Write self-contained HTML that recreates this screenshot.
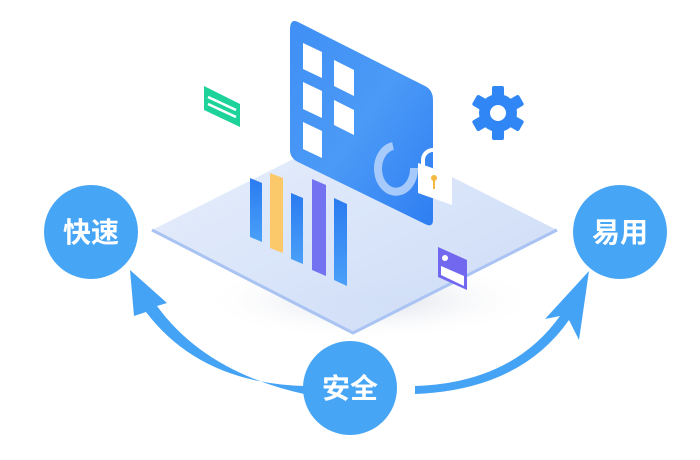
<!DOCTYPE html>
<html><head><meta charset="utf-8"><style>
html,body{margin:0;padding:0;background:#fff;width:700px;height:460px;overflow:hidden}
svg{display:block}
</style></head><body>
<svg width="700" height="460" viewBox="0 0 700 460" xmlns="http://www.w3.org/2000/svg">
<defs>
<linearGradient id="pl" x1="0" y1="0" x2="1" y2="1">
<stop offset="0" stop-color="#e6eefc"/><stop offset="1" stop-color="#c9d9f6"/></linearGradient>
<linearGradient id="pn" x1="0" y1="0" x2="1" y2="1">
<stop offset="0" stop-color="#3f8ff5"/><stop offset="0.5" stop-color="#4b9af7"/><stop offset="1" stop-color="#2f7ef2"/></linearGradient>
<linearGradient id="bb" x1="0" y1="0" x2="0" y2="1"><stop offset="0" stop-color="#2a7bf0"/><stop offset="1" stop-color="#4aa0f8"/></linearGradient>
<radialGradient id="sh" cx="0.5" cy="0.5" r="0.5"><stop offset="0" stop-color="#d8dce6"/><stop offset="1" stop-color="#fff" stop-opacity="0"/></radialGradient>
</defs>
<ellipse cx="370" cy="300" rx="170" ry="40" fill="url(#sh)"/>
<polygon points="152,230 355,128 557,230 353,333" fill="url(#pl)" opacity="0.95"/>
<polyline points="152,230 353,333 557,230" fill="none" stroke="#a9c3f3" stroke-width="3"/>
<path d="M298,22 L425,86 Q433,90 433,100 L433,220 Q433,228 425,224 L298,162 Q290,158 290,150 L290,30 Q290,18 298,22Z" fill="url(#pn)"/>
<g fill="#fff">
<polygon points="303,43 322,52 322,78 303,69"/>
<polygon points="334,60 354,70 354,96 334,86"/>
<polygon points="303,82 322,91 322,118 303,109"/>
<polygon points="334,100 354,110 354,135 334,125"/>
<polygon points="303,122 322,131 322,158 303,149"/>
</g>
<path d="M393,146 A18,23 0 1 0 414,168" fill="none" stroke="#b9d5fb" stroke-width="8" opacity="0.85"/>
<path d="M423,170 L423,160 A10,10 0 0 1 443,160 L443,172" fill="none" stroke="#fff" stroke-width="4"/>
<polygon points="418,163 452,175 452,205 418,193" fill="#fff"/>
<circle cx="434" cy="178" r="3" fill="#f5b942"/><rect x="433" y="179" width="2" height="10" fill="#f5b942"/>
<polygon points="250,178 262,183 262,242 250,237" fill="url(#bb)"/>
<polygon points="270,173 283,178 283,253 270,248" fill="#fbc96a"/>
<polygon points="291,193 303,198 303,264 291,259" fill="url(#bb)"/>
<polygon points="312,179 326,185 326,276 312,270" fill="#7372f0"/>
<polygon points="334,198 347,204 347,286 334,280" fill="url(#bb)"/>
<polygon points="204,86 240,104 240,127 204,110" fill="#1dd39a"/>
<line x1="208" y1="97" x2="236" y2="110" stroke="#fff" stroke-width="2.5"/>
<line x1="208" y1="104" x2="236" y2="117" stroke="#fff" stroke-width="2.5"/>
<g transform="translate(498,113)" fill="#2f86f4">
<circle r="19"/>
<g id="t"><rect x="-6" y="-27" width="12" height="12" rx="2"/></g>
<use href="#t" transform="rotate(60)"/><use href="#t" transform="rotate(120)"/><use href="#t" transform="rotate(180)"/><use href="#t" transform="rotate(240)"/><use href="#t" transform="rotate(300)"/>
<circle r="8" fill="#fff"/>
</g>
<polygon points="438,247 467,260 467,290 438,277" fill="#7168ef"/>
<polygon points="441,266 464,276 464,286 441,275" fill="#fff"/>
<circle cx="445" cy="258" r="3" fill="#fff"/>
<path d="M304,386 Q200,383 146,312 L134,316 L130,270 L167,303 L157,306 Q205,372 304,394Z" fill="#45a3f5"/>
<path d="M415,386 Q512,383 560,316 L545,319 L589,271 L579,340 L569,320 Q520,390 415,394Z" fill="#45a3f5"/>
<circle cx="91" cy="232" r="47" fill="#46a5f5"/>
<circle cx="620" cy="232" r="47" fill="#46a5f5"/>
<circle cx="350" cy="388" r="47" fill="#46a5f5"/>
<g font-family="'Liberation Sans','Noto Sans CJK SC',sans-serif" font-size="28" font-weight="bold" fill="#fff" text-anchor="middle">
<text x="91" y="242">快速</text>
<text x="620" y="242">易用</text>
<text x="350" y="398">安全</text>
</g>
</svg>
</body></html>
